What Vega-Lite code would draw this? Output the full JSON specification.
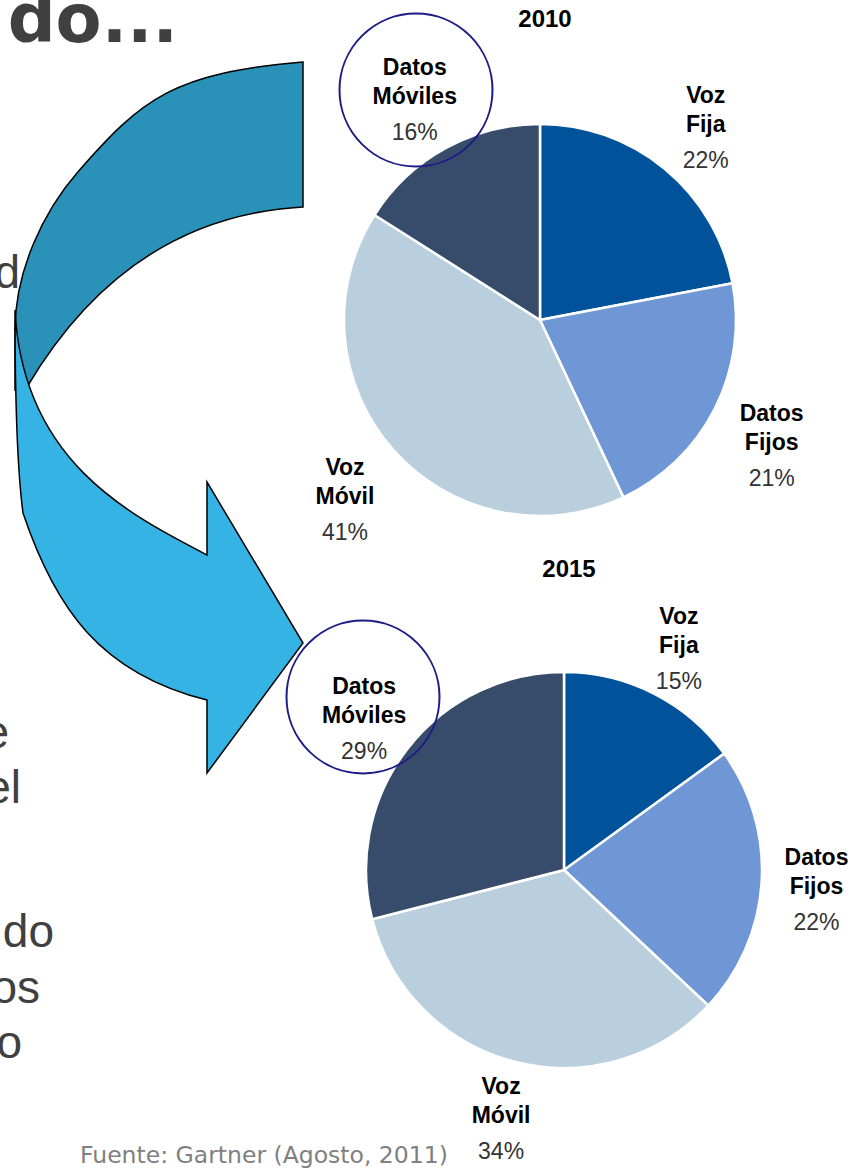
{
  "$schema": "https://vega.github.io/schema/vega-lite/v6.json",
  "width": 852,
  "height": 1171,
  "autosize": "none",
  "padding": 0,
  "background": "white",
  "config": {"view": {"stroke": null}},
  "datasets": {
    "cuota": [
      {"year": "2010", "segment": "Voz Fija", "pct": 0.22, "order": 1},
      {"year": "2010", "segment": "Datos Fijos", "pct": 0.21, "order": 2},
      {"year": "2010", "segment": "Voz Móvil", "pct": 0.41, "order": 3},
      {"year": "2010", "segment": "Datos Móviles", "pct": 0.16, "order": 4},
      {"year": "2015", "segment": "Voz Fija", "pct": 0.15, "order": 1},
      {"year": "2015", "segment": "Datos Fijos", "pct": 0.22, "order": 2},
      {"year": "2015", "segment": "Voz Móvil", "pct": 0.34, "order": 3},
      {"year": "2015", "segment": "Datos Móviles", "pct": 0.29, "order": 4}
    ],
    "notas": [
      {"id": "flecha", "texto": ""},
      {"id": "titulo", "texto": "do..."},
      {"id": "f1", "texto": "d"},
      {"id": "f2", "texto": "e"},
      {"id": "f3", "texto": "el"},
      {"id": "f4", "texto": "do"},
      {"id": "f5", "texto": "os"},
      {"id": "f6", "texto": "o"},
      {"id": "fuente", "texto": "Fuente: Gartner (Agosto, 2011)"}
    ]
  },
  "layer": [
    {
      "data": {"name": "notas"},
      "transform": [{"filter": "datum.id === 'flecha'"}],
      "mark": {"type": "point", "shape": "M -237 -258 C -366.5 -246.8 -397.4 -222.5 -463 -147 C -495.8 -109.2 -525 -50 -525 10 L -525 70 L -513 67 C -441.6 -53.4 -346.8 -107 -237 -113 Z", "size": 4, "filled": true, "fill": "#2A92B8", "stroke": "#000000", "strokeWidth": 1.5, "opacity": 1},
      "encoding": {
        "x": {"datum": "2010", "type": "nominal", "scale": {"type": "point", "domain": ["2010", "2015"], "range": [540, 564], "padding": 0}, "axis": null},
        "y": {"datum": "2010", "type": "nominal", "scale": {"type": "point", "domain": ["2010", "2015"], "range": [320, 870], "padding": 0}, "axis": null}
      }
    },
    {
      "data": {"name": "notas"},
      "transform": [{"filter": "datum.id === 'flecha'"}],
      "mark": {"type": "point", "shape": "M -525 -10 C -517.5 140 -413 193.6 -333 235 L -333 162 L -237 323 L -333 453 L -333 380 C -439.7 353.4 -485 288 -517 193 C -524 140 -525 40 -525 -10 Z", "size": 4, "filled": true, "fill": "#35B3E4", "stroke": "#000000", "strokeWidth": 1.5, "opacity": 1},
      "encoding": {
        "x": {"datum": "2010", "type": "nominal", "axis": null},
        "y": {"datum": "2010", "type": "nominal", "axis": null}
      }
    },
    {
      "data": {"name": "cuota"},
      "transform": [{"filter": "datum.year === '2010'"}],
      "mark": {"type": "arc", "outerRadius": 196, "stroke": "white", "strokeWidth": 2.5},
      "encoding": {
        "x": {"field": "year", "type": "nominal", "axis": null},
        "y": {"field": "year", "type": "nominal", "axis": null},
        "theta": {"field": "pct", "type": "quantitative", "stack": true},
        "color": {"field": "segment", "type": "nominal", "scale": {"domain": ["Voz Fija", "Datos Fijos", "Voz Móvil", "Datos Móviles"], "range": ["#00529B", "#6F97D5", "#B9CFDD", "#374B6B"]}, "legend": null},
        "order": {"field": "order", "type": "quantitative"}
      }
    },
    {
      "data": {"name": "cuota"},
      "transform": [{"filter": "datum.year === '2015'"}],
      "mark": {"type": "arc", "outerRadius": 198, "stroke": "white", "strokeWidth": 2.5},
      "encoding": {
        "x": {"field": "year", "type": "nominal", "axis": null},
        "y": {"field": "year", "type": "nominal", "axis": null},
        "theta": {"field": "pct", "type": "quantitative", "stack": true},
        "color": {"field": "segment", "type": "nominal", "legend": null},
        "order": {"field": "order", "type": "quantitative"}
      }
    },
    {
      "data": {"name": "cuota"},
      "transform": [{"filter": "datum.year === '2010' && datum.segment === 'Datos Móviles'"}],
      "mark": {"type": "point", "shape": "circle", "size": 23409, "filled": false, "stroke": "#1C1C86", "strokeWidth": 2, "opacity": 1, "xOffset": -124, "yOffset": -230},
      "encoding": {
        "x": {"field": "year", "type": "nominal", "axis": null},
        "y": {"field": "year", "type": "nominal", "axis": null}
      }
    },
    {
      "data": {"name": "cuota"},
      "transform": [{"filter": "datum.year === '2015' && datum.segment === 'Datos Móviles'"}],
      "mark": {"type": "point", "shape": "circle", "size": 23409, "filled": false, "stroke": "#1C1C86", "strokeWidth": 2, "opacity": 1, "xOffset": -201, "yOffset": -173},
      "encoding": {
        "x": {"field": "year", "type": "nominal", "axis": null},
        "y": {"field": "year", "type": "nominal", "axis": null}
      }
    },
    {
      "data": {"name": "cuota"},
      "transform": [{"filter": "datum.year === '2010'"}],
      "mark": {"type": "text", "radius": 260, "dy": -24, "font": "Liberation Sans", "fontSize": 23, "fontWeight": "bold", "lineBreak": " ", "lineHeight": 29, "baseline": "middle", "align": "center", "color": "#000000"},
      "encoding": {
        "x": {"field": "year", "type": "nominal", "axis": null},
        "y": {"field": "year", "type": "nominal", "axis": null},
        "theta": {"field": "pct", "type": "quantitative", "stack": true},
        "detail": {"field": "segment", "type": "nominal"},
        "order": {"field": "order", "type": "quantitative"},
        "text": {"field": "segment", "type": "nominal"}
      }
    },
    {
      "data": {"name": "cuota"},
      "transform": [{"filter": "datum.year === '2010'"}],
      "mark": {"type": "text", "radius": 260, "dy": 41, "font": "Liberation Sans", "fontSize": 23, "baseline": "middle", "align": "center", "color": "#333333"},
      "encoding": {
        "x": {"field": "year", "type": "nominal", "axis": null},
        "y": {"field": "year", "type": "nominal", "axis": null},
        "theta": {"field": "pct", "type": "quantitative", "stack": true},
        "detail": {"field": "segment", "type": "nominal"},
        "order": {"field": "order", "type": "quantitative"},
        "text": {"field": "pct", "type": "quantitative", "format": ".0%"}
      }
    },
    {
      "data": {"name": "cuota"},
      "transform": [{"filter": "datum.year === '2015'"}],
      "mark": {"type": "text", "radius": 253, "dy": -28, "font": "Liberation Sans", "fontSize": 23, "fontWeight": "bold", "lineBreak": " ", "lineHeight": 29, "baseline": "middle", "align": "center", "color": "#000000"},
      "encoding": {
        "x": {"field": "year", "type": "nominal", "axis": null},
        "y": {"field": "year", "type": "nominal", "axis": null},
        "theta": {"field": "pct", "type": "quantitative", "stack": true},
        "detail": {"field": "segment", "type": "nominal"},
        "order": {"field": "order", "type": "quantitative"},
        "text": {"field": "segment", "type": "nominal"}
      }
    },
    {
      "data": {"name": "cuota"},
      "transform": [{"filter": "datum.year === '2015'"}],
      "mark": {"type": "text", "radius": 253, "dy": 37, "font": "Liberation Sans", "fontSize": 23, "baseline": "middle", "align": "center", "color": "#333333"},
      "encoding": {
        "x": {"field": "year", "type": "nominal", "axis": null},
        "y": {"field": "year", "type": "nominal", "axis": null},
        "theta": {"field": "pct", "type": "quantitative", "stack": true},
        "detail": {"field": "segment", "type": "nominal"},
        "order": {"field": "order", "type": "quantitative"},
        "text": {"field": "pct", "type": "quantitative", "format": ".0%"}
      }
    },
    {
      "data": {"name": "cuota"},
      "transform": [{"filter": "datum.order === 1"}],
      "mark": {"type": "text", "dx": 5, "dy": -293, "font": "Liberation Sans", "fontSize": 24, "fontWeight": "bold", "baseline": "alphabetic", "align": "center", "color": "#000000"},
      "encoding": {
        "x": {"field": "year", "type": "nominal", "axis": null},
        "y": {"field": "year", "type": "nominal", "axis": null},
        "text": {"field": "year", "type": "nominal"}
      }
    },
    {
      "data": {"name": "notas"},
      "transform": [{"filter": "datum.id === 'titulo'"}],
      "mark": {"type": "text", "dx": -362, "dy": -278, "font": "DejaVu Sans", "fontSize": 67, "fontWeight": "bold", "baseline": "alphabetic", "align": "right", "color": "#404040"},
      "encoding": {
        "x": {"datum": "2010", "type": "nominal", "axis": null},
        "y": {"datum": "2010", "type": "nominal", "axis": null},
        "text": {"field": "texto", "type": "nominal"}
      }
    },
    {
      "data": {"name": "notas"},
      "transform": [{"filter": "datum.id === 'f1'"}],
      "mark": {"type": "text", "dx": -520, "dy": -32, "font": "Liberation Sans", "fontSize": 46, "baseline": "alphabetic", "align": "right", "color": "#404040"},
      "encoding": {
        "x": {"datum": "2010", "type": "nominal", "axis": null},
        "y": {"datum": "2010", "type": "nominal", "axis": null},
        "text": {"field": "texto", "type": "nominal"}
      }
    },
    {
      "data": {"name": "notas"},
      "transform": [{"filter": "datum.id === 'f2'"}],
      "mark": {"type": "text", "dx": -531, "dy": 428, "font": "Liberation Sans", "fontSize": 46, "baseline": "alphabetic", "align": "right", "color": "#404040"},
      "encoding": {
        "x": {"datum": "2010", "type": "nominal", "axis": null},
        "y": {"datum": "2010", "type": "nominal", "axis": null},
        "text": {"field": "texto", "type": "nominal"}
      }
    },
    {
      "data": {"name": "notas"},
      "transform": [{"filter": "datum.id === 'f3'"}],
      "mark": {"type": "text", "dx": -519, "dy": 483, "font": "Liberation Sans", "fontSize": 46, "baseline": "alphabetic", "align": "right", "color": "#404040"},
      "encoding": {
        "x": {"datum": "2010", "type": "nominal", "axis": null},
        "y": {"datum": "2010", "type": "nominal", "axis": null},
        "text": {"field": "texto", "type": "nominal"}
      }
    },
    {
      "data": {"name": "notas"},
      "transform": [{"filter": "datum.id === 'f4'"}],
      "mark": {"type": "text", "dx": -486, "dy": 627, "font": "Liberation Sans", "fontSize": 46, "baseline": "alphabetic", "align": "right", "color": "#404040"},
      "encoding": {
        "x": {"datum": "2010", "type": "nominal", "axis": null},
        "y": {"datum": "2010", "type": "nominal", "axis": null},
        "text": {"field": "texto", "type": "nominal"}
      }
    },
    {
      "data": {"name": "notas"},
      "transform": [{"filter": "datum.id === 'f5'"}],
      "mark": {"type": "text", "dx": -500, "dy": 683, "font": "Liberation Sans", "fontSize": 46, "baseline": "alphabetic", "align": "right", "color": "#404040"},
      "encoding": {
        "x": {"datum": "2010", "type": "nominal", "axis": null},
        "y": {"datum": "2010", "type": "nominal", "axis": null},
        "text": {"field": "texto", "type": "nominal"}
      }
    },
    {
      "data": {"name": "notas"},
      "transform": [{"filter": "datum.id === 'f6'"}],
      "mark": {"type": "text", "dx": -518, "dy": 738, "font": "Liberation Sans", "fontSize": 46, "baseline": "alphabetic", "align": "right", "color": "#404040"},
      "encoding": {
        "x": {"datum": "2010", "type": "nominal", "axis": null},
        "y": {"datum": "2010", "type": "nominal", "axis": null},
        "text": {"field": "texto", "type": "nominal"}
      }
    },
    {
      "data": {"name": "notas"},
      "transform": [{"filter": "datum.id === 'fuente'"}],
      "mark": {"type": "text", "dx": -484, "dy": 293, "font": "DejaVu Sans", "fontSize": 23.5, "baseline": "alphabetic", "align": "left", "color": "#808080"},
      "encoding": {
        "x": {"datum": "2015", "type": "nominal", "axis": null},
        "y": {"datum": "2015", "type": "nominal", "axis": null},
        "text": {"field": "texto", "type": "nominal"}
      }
    }
  ]
}
